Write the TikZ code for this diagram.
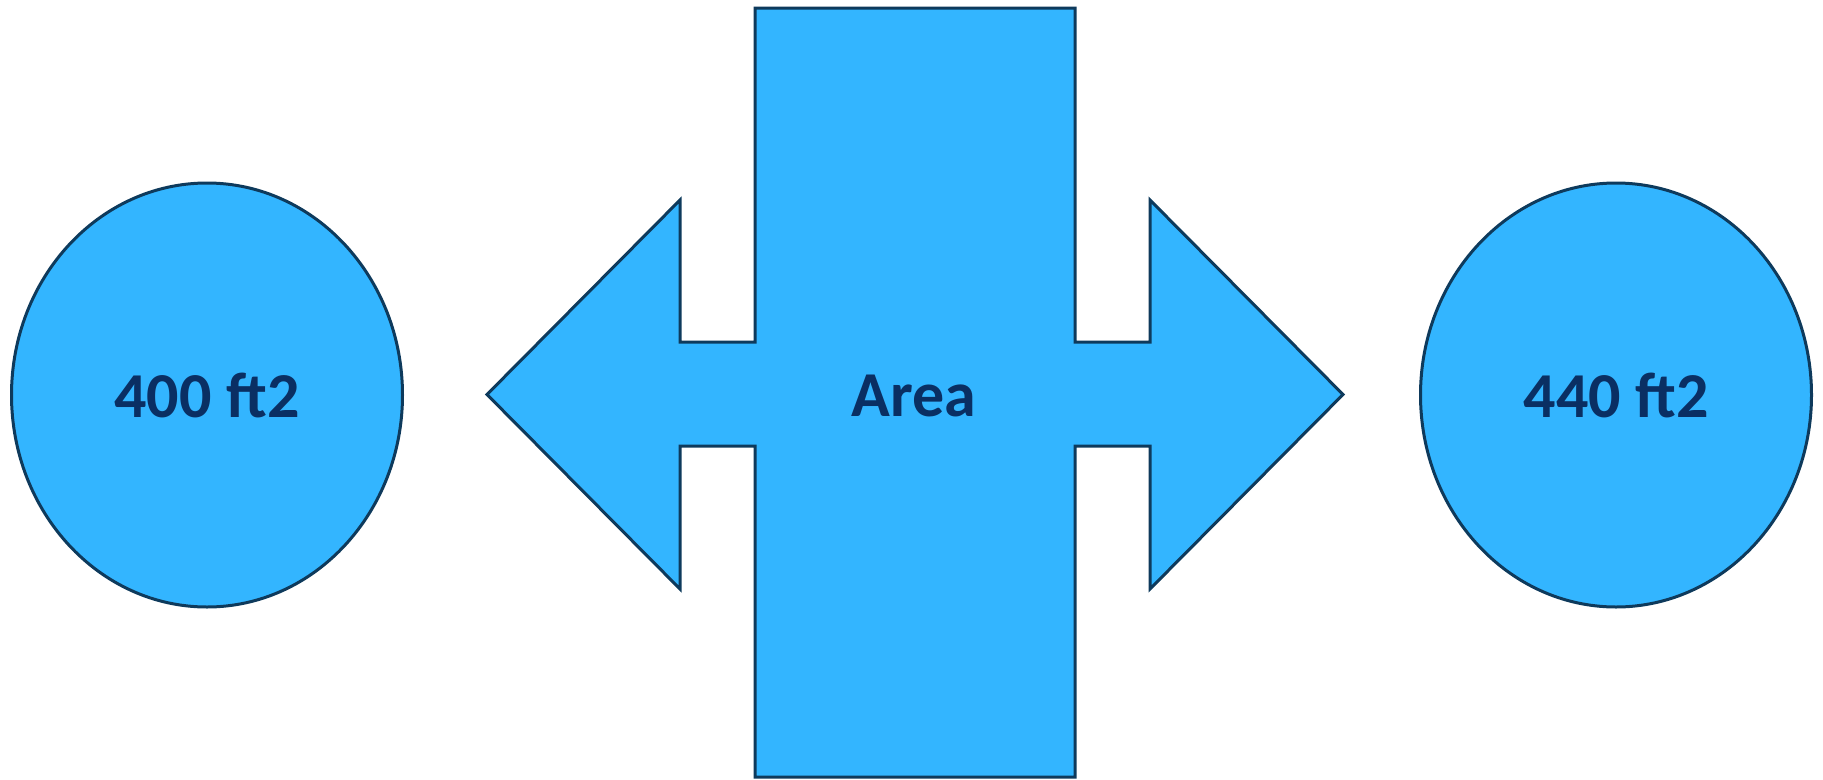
\documentclass[tikz,border=0pt]{standalone}
\usepackage{fontspec}
\setmainfont{Carlito}
\usetikzlibrary{shapes.geometric}

\definecolor{areablue}{RGB}{51,181,255}
\definecolor{areaedge}{RGB}{14,58,92}
\definecolor{areatext}{RGB}{10,47,99}

\begin{document}
\begin{tikzpicture}[
        x=1pt, y=-1pt,
        every node/.style={font=\bfseries\fontsize{64}{70}\selectfont, text=areatext},
        plot/.style={ellipse, draw=areaedge, fill=areablue, line width=3pt, minimum width=391pt, minimum height=424pt, inner sep=0pt},
        cross/.style={draw=areaedge, fill=areablue, line width=3pt, line join=miter}
    ]
        \useasboundingbox (0,0) rectangle (1823,779);

        % Plots
        \node[plot] (before) at (207,395) {400 ft2};
        \node[plot] (after) at (1616,395) {440 ft2};

        % Bar with two arrows
        \draw[cross] (755,8) -- (1075,8) -- (1075,342) -- (1150,342) -- (1150,200)
            -- (1343,394.5) -- (1150,589) -- (1150,446) -- (1075,446) -- (1075,777)
            -- (755,777) -- (755,446) -- (680,446) -- (680,589) -- (487,394.5)
            -- (680,200) -- (680,342) -- (755,342) -- cycle;

        \node (area) at (914,396) {Area};

    \end{tikzpicture}
\end{document}
